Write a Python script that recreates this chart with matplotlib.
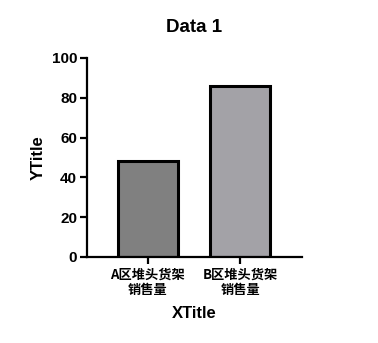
import matplotlib.pyplot as plt

categories = ["A区堆头货架\n销售量", "B区堆头货架\n销售量"]
values = [48.2, 86.0]
colors = ["#808080", "#A3A2A7"]
y_ticks = [0, 20, 40, 60, 80, 100]

plt.rcParams["font.family"] = ["Liberation Sans", "Noto Sans CJK SC"]

fig = plt.figure(figsize=(3.78, 3.43), dpi=100)
ax = fig.add_axes([0.230, 0.251, 0.569, 0.580])

x = range(len(categories))
ax.bar(x, values, width=0.65, color=colors, edgecolor="black", linewidth=2.2)

ax.set_xlim(-0.66, 1.67)
ax.set_ylim(0, 100)
ax.set_yticks(y_ticks)
ax.set_xticks(list(x))
ax.set_xticklabels(categories, family=["Noto Sans CJK SC"], fontsize=9.5,
                   fontweight="bold", linespacing=1.05)

for side in ["top", "right"]:
    ax.spines[side].set_visible(False)
for side in ["left", "bottom"]:
    ax.spines[side].set_linewidth(1.6)

ax.tick_params(axis="both", width=1.6, length=5, color="black")
ax.tick_params(axis="y", labelsize=11, pad=2)
ax.tick_params(axis="x", pad=3)
for lab in ax.get_yticklabels():
    lab.set_fontweight("bold")

ax.set_title("Data 1", fontsize=13.5, fontweight="bold", pad=19)
ax.set_xlabel("XTitle", fontsize=12, fontweight="bold", labelpad=7)
ax.set_ylabel("YTitle", fontsize=12, fontweight="bold", labelpad=4)

fig.savefig("out.png", dpi=100)
